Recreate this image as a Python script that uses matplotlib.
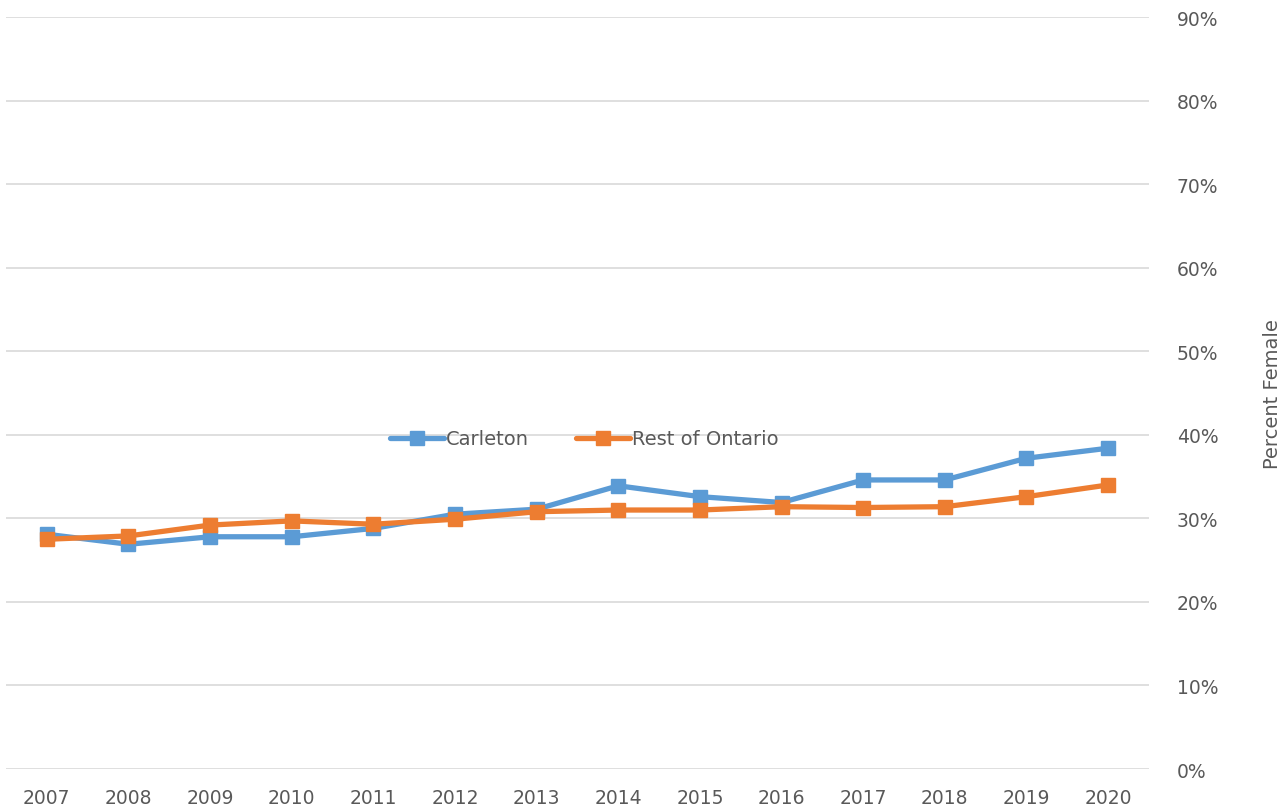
import matplotlib.pyplot as plt
from matplotlib.ticker import PercentFormatter

years = [2007, 2008, 2009, 2010, 2011, 2012, 2013, 2014, 2015, 2016, 2017, 2018, 2019, 2020]
carleton = [28.1, 26.9, 27.8, 27.8, 28.8, 30.5, 31.1, 33.9, 32.6, 31.9, 34.6, 34.6, 37.2, 38.4]
rest_ontario = [27.5, 27.9, 29.2, 29.7, 29.3, 29.9, 30.8, 31.0, 31.0, 31.4, 31.3, 31.4, 32.6, 34.0]

fig = plt.figure(figsize=(12.87, 8.12), dpi=100)
ax = fig.add_axes([0.0047, 0.0517, 0.888, 0.926])

x = list(range(len(years)))
ax.plot(x, carleton, color="#5B9BD5", lw=3.8, marker="s", ms=10.5,
        label="Carleton", solid_capstyle="round")
ax.plot(x, rest_ontario, color="#ED7D31", lw=3.8, marker="s", ms=10.5,
        label="Rest of Ontario", solid_capstyle="round")

ax.set_xlim(-0.5, len(years) - 0.5)
ax.set_ylim(0, 90)
ax.set_yticks(range(0, 91, 10))
ax.yaxis.set_major_formatter(PercentFormatter(decimals=0))
ax.set_xticks(x)
ax.set_xticklabels([str(y) for y in years])

ax.yaxis.tick_right()
ax.yaxis.set_label_position("right")
ax.set_ylabel("Percent Female", fontsize=14, color="#595959", labelpad=32)

ax.grid(axis="y", color="#d9d9d9", lw=1.2)
ax.set_axisbelow(True)
for s in ax.spines.values():
    s.set_visible(False)
ax.tick_params(axis="both", length=0, labelsize=13.5, colors="#595959")
ax.tick_params(axis="y", pad=20)
ax.tick_params(axis="x", pad=14)

leg = ax.legend(loc="center", bbox_to_anchor=(0.506, 0.439), ncol=2,
                frameon=False, fontsize=14, handlelength=2.8,
                columnspacing=2.4, handletextpad=0.1)
for t in leg.get_texts():
    t.set_color("#595959")

fig.savefig("out.png", dpi=100)
